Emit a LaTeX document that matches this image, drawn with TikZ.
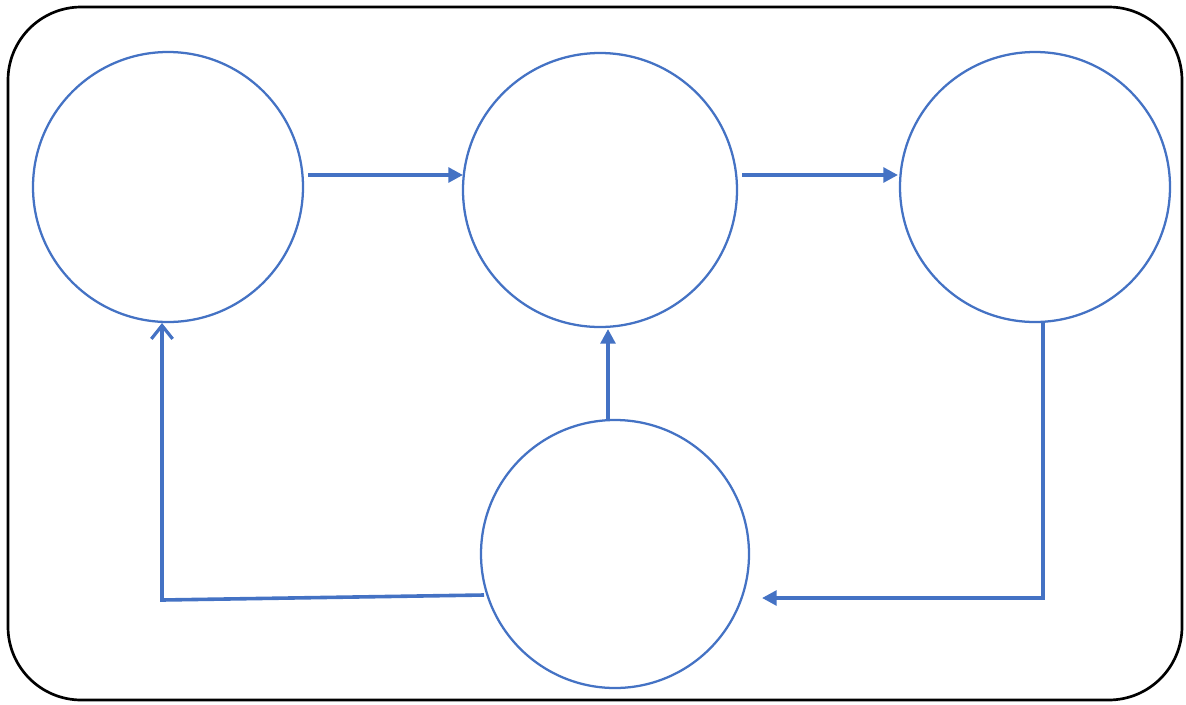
\documentclass[tikz,border=0pt]{standalone}
\usetikzlibrary{arrows.meta}
\definecolor{cblue}{RGB}{68,114,196}
\begin{document}
\begin{tikzpicture}[x=0.75pt,y=-0.75pt,
  circ/.style={circle,draw=cblue,line width=1.7pt,minimum size=#1*0.75pt,inner sep=0pt},
  conn/.style={draw=cblue,line width=2.7pt,-{Triangle[length=11pt,width=11pt]}},
  connopen/.style={draw=cblue,line width=2.7pt,-{Straight Barb[length=10pt,width=16pt,line width=2.4pt]}},
  frame/.style={draw=black,line width=2pt,rounded corners=55pt}]
\useasboundingbox (0,0) rectangle (1186,704);
\fill[white] (0,0) rectangle (1186,704);
\draw[frame] (8,7) rectangle (1182,700);
\node[circ=270] (c1) at (168,187) {};
\node[circ=274] (c2) at (600,190) {};
\node[circ=270] (c3) at (1035,187) {};
\node[circ=268] (c4) at (615,554) {};
\coordinate (a1s) at (308,175);
\coordinate (a1e) at (463,175);
\coordinate (a2s) at (742,175);
\coordinate (a2e) at (898,175);
\coordinate (a3s) at (608,420);
\coordinate (a3e) at (608,329);
\coordinate (a4s) at (1043,322);
\coordinate (a4e) at (762,598);
\coordinate (a5s) at (484,595);
\coordinate (a5m) at (162,600);
\coordinate (a5e) at (162,323);
\draw[conn] (a1s) -- (a1e);
\draw[conn] (a2s) -- (a2e);
\draw[conn] (a3s) -- (a3e);
\draw[conn] (a4s) |- (a4e);
\draw[connopen] (a5s) -- (a5m) -- (a5e);
\end{tikzpicture}
\end{document}
